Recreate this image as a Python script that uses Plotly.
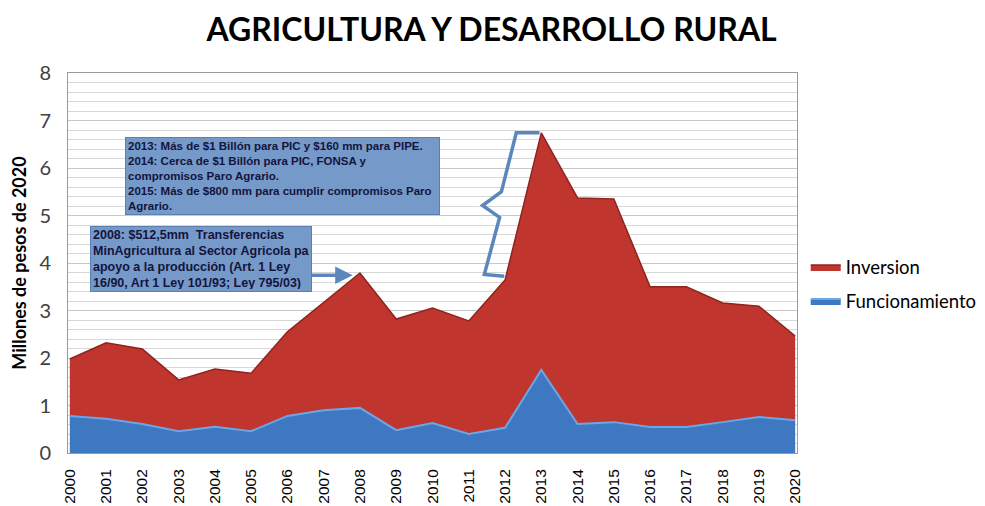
import plotly.graph_objects as go

years = list(range(2000, 2021))
funcionamiento = [0.78, 0.72, 0.61, 0.46, 0.55, 0.46, 0.78, 0.90, 0.95, 0.48, 0.63,
                  0.40, 0.53, 1.75, 0.61, 0.65, 0.55, 0.55, 0.65, 0.76, 0.69]
inversion = [1.20, 1.60, 1.58, 1.08, 1.22, 1.22, 1.77, 2.27, 2.84, 2.34, 2.42,
             2.38, 3.11, 4.99, 4.76, 4.70, 2.95, 2.95, 2.51, 2.33, 1.77]
y_ticks = [0, 1, 2, 3, 4, 5, 6, 7, 8]

title_text = "AGRICULTURA Y DESARROLLO RURAL"
y_title = "Millones de pesos de 2020"
note_2013 = ("2013: Más de $1 Billón para PIC y $160 mm para PIPE.<br>"
             "2014: Cerca de $1 Billón para PIC, FONSA y<br>"
             "compromisos Paro Agrario.<br>"
             "2015: Más de $800 mm para cumplir compromisos Paro<br>"
             "Agrario.")
note_2008 = ("2008: $512,5mm  Transferencias<br>"
             "MinAgricultura al Sector Agricola para<br>"
             "apoyo a la producción (Art. 1 Ley<br>"
             "16/90, Art 1 Ley 101/93; Ley 795/03)")

fig = go.Figure()
fig.add_trace(go.Scatter(
    x=years, y=funcionamiento, name="Funcionamiento", stackgroup="one",
    mode="lines", line=dict(color="#6AA6E8", width=2),
    fillcolor="#3D78C0", legendgroup="f", legendrank=2))
fig.add_trace(go.Scatter(
    x=years, y=inversion, name="Inversion", stackgroup="one",
    mode="lines", line=dict(color="#8E2420", width=1.5),
    fillcolor="#C0352D", legendgroup="i", legendrank=1))

# brace shape near 2012-2013
fig.add_shape(type="path",
              path="M 2012.95 6.74 L 2012.31 6.74 L 2011.90 5.50 L 2011.38 5.21 "
                   "L 2011.85 4.96 L 2011.43 3.76 L 2011.98 3.72",
              xref="x", yref="y", line=dict(color="#5B86BE", width=3.5),
              layer="above")

# annotations
fig.add_annotation(x=2001.53, y=6.66, xref="x", yref="y", xanchor="left", yanchor="top",
                   text=note_2013, showarrow=False, align="left",
                   font=dict(family="Liberation Sans, Arial", size=11.5, color="#14143C", weight="bold"),
                   bgcolor="#7599C9", bordercolor="#5A7FB0", borderwidth=1, borderpad=2,
                   width=309, height=72)
fig.add_annotation(x=2000.55, y=4.77, xref="x", yref="y", xanchor="left", yanchor="top",
                   text=note_2008, showarrow=False, align="left",
                   font=dict(family="Liberation Sans, Arial", size=12.5, color="#14143C", weight="bold"),
                   bgcolor="#7599C9", bordercolor="#5A7FB0", borderwidth=1, borderpad=2,
                   width=216, height=60)
fig.add_annotation(x=2007.8, y=3.74, ax=2006.62, ay=3.74, xref="x", yref="y",
                   axref="x", ayref="y", text="", showarrow=True,
                   arrowhead=2, arrowsize=1, arrowwidth=3.5, arrowcolor="#5B86BE")

fig.update_layout(
    width=977, height=498,
    margin=dict(l=60, r=188, t=65, b=53, autoexpand=False),
    paper_bgcolor="white", plot_bgcolor="white",
    title=dict(text=title_text, x=0.495, xanchor="center", y=0.956, yanchor="middle",
               font=dict(family="Lato", size=32, color="black", weight="bold")),
    showlegend=True,
    legend=dict(xref="container", yref="container", x=0.8165, y=0.517,
                xanchor="left", yanchor="top",
                tracegroupgap=7,
                font=dict(family="Lato", size=18.5, color="black"),
                itemwidth=30),
    xaxis=dict(range=[1999.95, 2020.05], tickmode="array", tickvals=years,
               ticktext=[str(y) for y in years], tickangle=-90,
               tickfont=dict(family="Liberation Sans, Arial", size=15.5, color="black"),
               showgrid=False, zeroline=False, showline=True, linecolor="#9A9A9A",
               mirror=True, ticks="", ticklabelstandoff=9, automargin=False),
    yaxis=dict(range=[0, 8], tickmode="array", tickvals=y_ticks,
               tickfont=dict(family="Lato", size=20, color="#404040"),
               showgrid=True, gridcolor="#C8C8C8", gridwidth=1,
               minor=dict(dtick=0.2, showgrid=True, gridcolor="#D8D8D8", gridwidth=1),
               zeroline=False, showline=True, linecolor="#9A9A9A", mirror=True,
               ticks="", ticklabelstandoff=12, automargin=False,
               title=dict(text=y_title, standoff=10,
                          font=dict(family="Lato", size=18, color="black", weight="bold"))),
)

fig.write_html("out.html")
